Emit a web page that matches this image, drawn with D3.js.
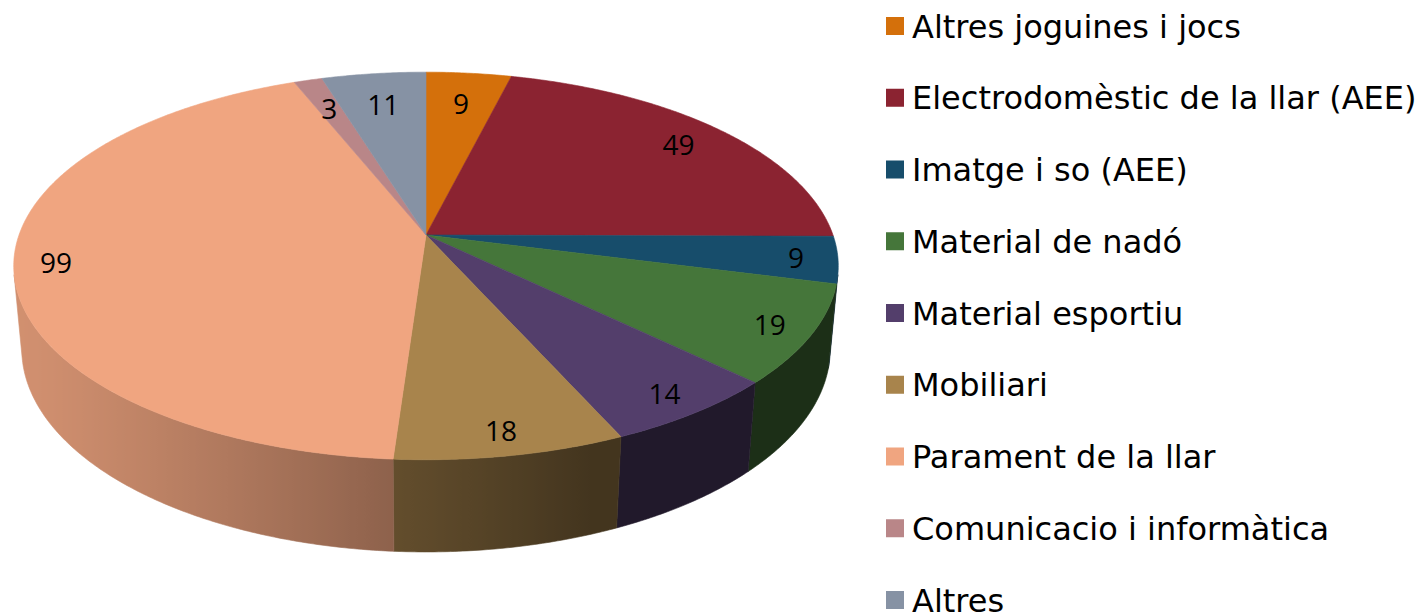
<!DOCTYPE html>
<html>
<head>
<meta charset="utf-8">
<script src="https://cdn.jsdelivr.net/npm/d3@7"></script>
<style>
  body { margin: 0; background: #fff; }
  svg { display: block; }
</style>
</head>
<body>
<svg id="chart" width="1422" height="615"></svg>
<script>
// data
const categories = [
  "Altres joguines i jocs",
  "Electrodomèstic de la llar (AEE)",
  "Imatge i so (AEE)",
  "Material de nadó",
  "Material esportiu",
  "Mobiliari",
  "Parament de la llar",
  "Comunicacio i informàtica",
  "Altres"
]
const values = [9, 49, 9, 19, 14, 18, 99, 3, 11]
const colors = ["#d4700b", "#8b2331", "#174d6b", "#45763a", "#533e6b", "#a8844c", "#f0a580", "#b98688", "#8692a4"]

const svg = d3.select('#chart')
const defs = svg.append('defs')

// simple perspective camera for the 3d pie
const cx = 426, cy = 235
const focal = 2258, dist = 5.548
const tilt = Math.asin(0.464)
const thick = 0.232

function project(theta, r, h) {
    const X = r * Math.sin(theta), Z = r * Math.cos(theta), Y = h
    const yc = Y * Math.cos(tilt) + Z * Math.sin(tilt)
    const zc = dist + Z * Math.cos(tilt) - Y * Math.sin(tilt)
    return [cx + focal * X / zc, cy - focal * yc / zc]
}

// shading of the rim: light comes from the left
function shade(col, theta) {
    const lit = 0.4 + 0.47 * Math.max(0, Math.cos(theta - 250 * Math.PI / 180))
    const c = d3.rgb(col)
    return d3.rgb(c.r * lit, c.g * lit, c.b * lit).formatHex()
}

const pie = d3.pie().sort(null).startAngle(0).endAngle(2 * Math.PI)
const arcs = pie(values)

const step = Math.PI / 360
// the rim can be seen where the outward normal faces the camera
const visLimit = Math.acos(-1 / (dist * Math.cos(tilt)))
const visFrom = visLimit, visTo = 2 * Math.PI - visLimit

const sideG = svg.append('g')
const topG = svg.append('g')

arcs.forEach((a, i) => {
    const s0 = Math.max(a.startAngle, visFrom), s1 = Math.min(a.endAngle, visTo)
    if (s1 <= s0) return
    const n = Math.max(2, Math.ceil((s1 - s0) / step))
    const angs = d3.range(n + 1).map(k => s0 + (s1 - s0) * k / n)
    const topPts = angs.map(t => project(t, 1, 0))
    const botPts = angs.map(t => project(t, 1, -thick)).reverse()

    // gradient along x, the rim's x runs one way over the seen part
    const xs = topPts.map(p => p[0])
    const x0 = d3.min(xs), x1 = d3.max(xs)
    const off = d3.scaleLinear().domain([x0, x1]).range([0, 1])
    const grad = defs.append('linearGradient')
        .attr('id', 'rim' + i)
        .attr('gradientUnits', 'userSpaceOnUse')
        .attr('x1', x0).attr('x2', x1).attr('y1', 0).attr('y2', 0)
    grad.selectAll('stop')
        .data(angs.map((t, k) => ({ o: off(xs[k]), c: shade(colors[i], t) })).sort((p, q) => p.o - q.o))
        .join('stop')
        .attr('offset', d => d.o)
        .attr('stop-color', d => d.c)

    sideG.append('path')
        .attr('d', 'M' + topPts.concat(botPts).join('L') + 'Z')
        .attr('fill', `url(#rim${i})`)
        .attr('stroke', `url(#rim${i})`)
        .attr('stroke-width', 0.6)
})

topG.selectAll('path')
    .data(arcs)
    .join('path')
    .attr('d', a => {
        const n = Math.max(2, Math.ceil((a.endAngle - a.startAngle) / step))
        const pts = d3.range(n + 1).map(k => project(a.startAngle + (a.endAngle - a.startAngle) * k / n, 1, 0))
        return 'M' + project(0, 0, 0) + 'L' + pts.join('L') + 'Z'
    })
    .attr('fill', (a, i) => colors[i])
    .attr('stroke', (a, i) => colors[i])
    .attr('stroke-width', 0.6)

// data labels
svg.append('g').selectAll('text')
    .data(arcs)
    .join('text')
    .each(function(a) {
        const mid = (a.startAngle + a.endAngle) / 2
        const v = Math.cos(mid)
        const k = 0.9 - 0.11 * Math.max(0, (v - 0.3) / 0.7)
        const p = project(mid, k, 0)
        d3.select(this).attr('x', p[0]).attr('y', p[1])
    })
    .attr('text-anchor', 'middle')
    .attr('dominant-baseline', 'central')
    .attr('font-family', '"Open Sans", sans-serif')
    .attr('font-size', 28)
    .attr('fill', '#000')
    .text(a => a.data)

// legend
const legY = d3.scalePoint().domain(categories).range([26, 600])

const leg = svg.append('g').selectAll('g')
    .data(categories)
    .join('g')
    .attr('transform', d => `translate(886,${legY(d)})`)

leg.append('rect')
    .attr('x', 0).attr('y', -9)
    .attr('width', 18).attr('height', 18)
    .attr('fill', (d, i) => colors[i])

leg.append('text')
    .attr('x', 26).attr('y', 11.5)
    .attr('font-family', '"DejaVu Sans", Verdana, sans-serif')
    .attr('font-size', 32)
    .attr('fill', '#000')
    .text(d => d)
</script>
</body>
</html>
